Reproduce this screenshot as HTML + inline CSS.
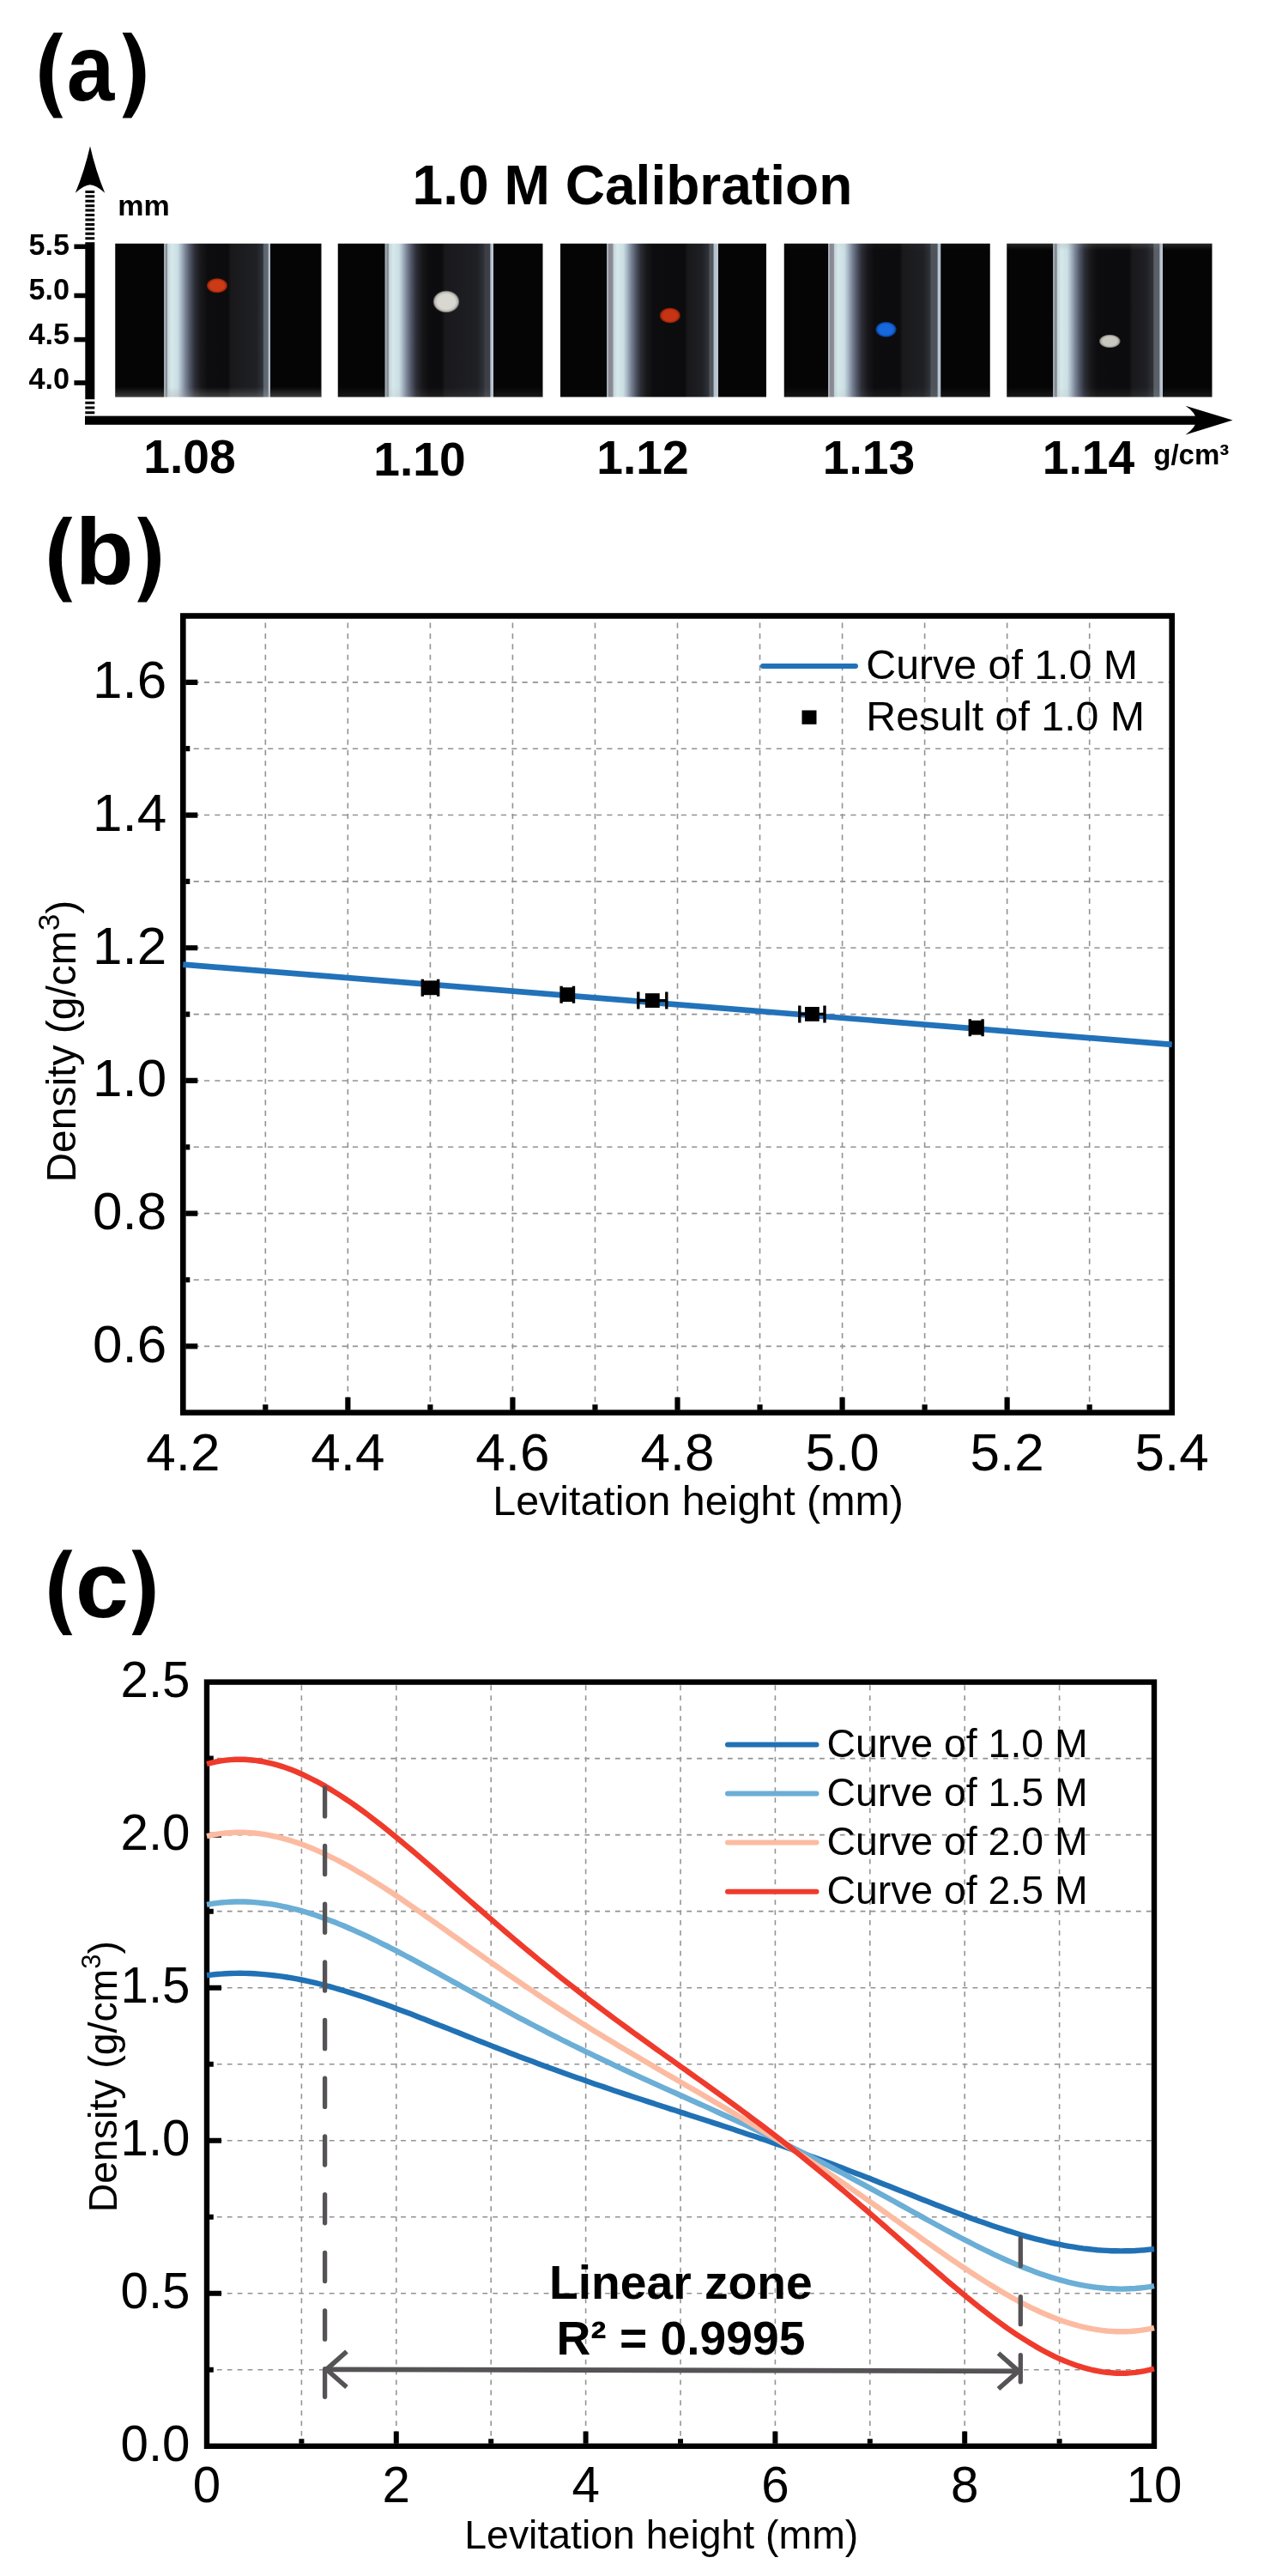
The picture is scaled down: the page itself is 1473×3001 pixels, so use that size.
<!DOCTYPE html>
<html><head><meta charset="utf-8"><title>figure</title>
<style>html,body{margin:0;padding:0;background:#fff}svg{display:block;will-change:transform}text{font-family:"Liberation Sans",sans-serif;fill:#000}</style></head>
<body>
<svg width="1473" height="3001" viewBox="0 0 1473 3001">
<rect x="0" y="0" width="1473" height="3001" fill="#fff"/>
<path d="M62.70 38.00 C40.90 67.80 40.90 107.70 62.50 137.50 L73.20 137.50 C56.85 106.20 56.85 69.30 73.20 38.00 Z" fill="#000"/>
<path d="M153.10 38.00 C174.90 67.80 174.90 107.70 153.30 137.50 L142.60 137.50 C158.95 106.20 158.95 69.30 142.60 38.00 Z" fill="#000"/>
<text x="0" y="0" font-size="108.6" font-weight="bold" transform="translate(77.86 116.80) scale(0.9200 1)">a</text>
<path d="M73.70 602.00 C51.90 631.80 51.90 671.80 73.50 701.60 L84.20 701.60 C67.85 670.30 67.85 633.30 84.20 602.00 Z" fill="#000"/>
<path d="M170.60 602.00 C192.40 631.80 192.40 671.80 170.80 701.60 L160.10 701.60 C176.45 670.30 176.45 633.30 160.10 602.00 Z" fill="#000"/>
<text x="0" y="0" font-size="108.6" font-weight="bold" transform="translate(87.47 680.00) scale(1.0300 1)">b</text>
<path d="M73.80 1805.50 C52.00 1835.30 52.00 1875.30 73.60 1905.10 L84.30 1905.10 C67.95 1873.80 67.95 1836.80 84.30 1805.50 Z" fill="#000"/>
<path d="M164.10 1805.50 C185.90 1835.30 185.90 1875.30 164.30 1905.10 L153.60 1905.10 C169.95 1873.80 169.95 1836.80 153.60 1805.50 Z" fill="#000"/>
<text x="0" y="0" font-size="108.6" font-weight="bold" transform="translate(87.66 1883.50) scale(1.0300 1)">c</text>
<g id="panel-a">
<defs>
<linearGradient id="tg0" gradientUnits="userSpaceOnUse" x1="134.25" y1="0" x2="374.5" y2="0">
<stop offset="0.2341" stop-color="#050506"/>
<stop offset="0.2362" stop-color="#9aa8b0"/>
<stop offset="0.2425" stop-color="#a4b2ba"/>
<stop offset="0.2445" stop-color="#88868f"/>
<stop offset="0.2504" stop-color="#8c8c96"/>
<stop offset="0.2554" stop-color="#c2d6da"/>
<stop offset="0.2737" stop-color="#d6e8ea"/>
<stop offset="0.3028" stop-color="#cbdee4"/>
<stop offset="0.3195" stop-color="#a9b9c6"/>
<stop offset="0.3403" stop-color="#7a8496"/>
<stop offset="0.3611" stop-color="#525868"/>
<stop offset="0.3861" stop-color="#2c2e36"/>
<stop offset="0.4152" stop-color="#18181b"/>
<stop offset="0.4485" stop-color="#0d0d0f"/>
<stop offset="0.5463" stop-color="#0c0c0e"/>
<stop offset="0.5630" stop-color="#19191c"/>
<stop offset="0.6845" stop-color="#1f2024"/>
<stop offset="0.7157" stop-color="#2e3238"/>
<stop offset="0.7220" stop-color="#5f6670"/>
<stop offset="0.7403" stop-color="#5f6670"/>
<stop offset="0.7444" stop-color="#b4c0ce"/>
<stop offset="0.7515" stop-color="#bcc8d6"/>
<stop offset="0.7540" stop-color="#050506"/>
</linearGradient>
<radialGradient id="bg0"><stop offset="0" stop-color="#cc3a16"/><stop offset="0.66" stop-color="#cc3a16"/><stop offset="0.86" stop-color="#a82a0c"/><stop offset="1" stop-color="#a82a0c" stop-opacity="0"/></radialGradient>
<linearGradient id="vf0" x1="0" y1="0" x2="0" y2="1"><stop offset="0" stop-color="#999" stop-opacity="0.0"/><stop offset="0.045" stop-color="#888" stop-opacity="0"/><stop offset="0.935" stop-color="#999" stop-opacity="0"/><stop offset="1" stop-color="#aaa" stop-opacity="0.33"/></linearGradient>
<linearGradient id="tg1" gradientUnits="userSpaceOnUse" x1="393.75" y1="0" x2="632.5" y2="0">
<stop offset="0.2283" stop-color="#050506"/>
<stop offset="0.2304" stop-color="#9aa8b0"/>
<stop offset="0.2366" stop-color="#a4b2ba"/>
<stop offset="0.2387" stop-color="#88868f"/>
<stop offset="0.2457" stop-color="#8c8c96"/>
<stop offset="0.2507" stop-color="#c2d6da"/>
<stop offset="0.2691" stop-color="#d6e8ea"/>
<stop offset="0.2984" stop-color="#cbdee4"/>
<stop offset="0.3152" stop-color="#a9b9c6"/>
<stop offset="0.3361" stop-color="#7a8496"/>
<stop offset="0.3571" stop-color="#525868"/>
<stop offset="0.3822" stop-color="#2c2e36"/>
<stop offset="0.4115" stop-color="#18181b"/>
<stop offset="0.4450" stop-color="#0d0d0f"/>
<stop offset="0.5068" stop-color="#0c0c0e"/>
<stop offset="0.5236" stop-color="#19191c"/>
<stop offset="0.6806" stop-color="#1f2024"/>
<stop offset="0.7120" stop-color="#2e3238"/>
<stop offset="0.7183" stop-color="#3c4046"/>
<stop offset="0.7418" stop-color="#3c4046"/>
<stop offset="0.7460" stop-color="#b4c0ce"/>
<stop offset="0.7573" stop-color="#bcc8d6"/>
<stop offset="0.7598" stop-color="#050506"/>
</linearGradient>
<radialGradient id="bg1"><stop offset="0" stop-color="#d8d8d0"/><stop offset="0.66" stop-color="#d8d8d0"/><stop offset="0.86" stop-color="#b4b4ac"/><stop offset="1" stop-color="#b4b4ac" stop-opacity="0"/></radialGradient>
<linearGradient id="vf1" x1="0" y1="0" x2="0" y2="1"><stop offset="0" stop-color="#999" stop-opacity="0.0"/><stop offset="0.045" stop-color="#888" stop-opacity="0"/><stop offset="0.935" stop-color="#999" stop-opacity="0"/><stop offset="1" stop-color="#aaa" stop-opacity="0.12"/></linearGradient>
<linearGradient id="tg2" gradientUnits="userSpaceOnUse" x1="653.0" y1="0" x2="893.0" y2="0">
<stop offset="0.2229" stop-color="#050506"/>
<stop offset="0.2250" stop-color="#9aa8b0"/>
<stop offset="0.2313" stop-color="#a4b2ba"/>
<stop offset="0.2333" stop-color="#88868f"/>
<stop offset="0.2537" stop-color="#8c8c96"/>
<stop offset="0.2588" stop-color="#c2d6da"/>
<stop offset="0.2771" stop-color="#d6e8ea"/>
<stop offset="0.3063" stop-color="#cbdee4"/>
<stop offset="0.3229" stop-color="#a9b9c6"/>
<stop offset="0.3438" stop-color="#7a8496"/>
<stop offset="0.3646" stop-color="#525868"/>
<stop offset="0.3896" stop-color="#2c2e36"/>
<stop offset="0.4188" stop-color="#18181b"/>
<stop offset="0.4521" stop-color="#0d0d0f"/>
<stop offset="0.6031" stop-color="#0c0c0e"/>
<stop offset="0.6198" stop-color="#19191c"/>
<stop offset="0.6877" stop-color="#1f2024"/>
<stop offset="0.7190" stop-color="#2e3238"/>
<stop offset="0.7252" stop-color="#50565c"/>
<stop offset="0.7419" stop-color="#50565c"/>
<stop offset="0.7460" stop-color="#b4c0ce"/>
<stop offset="0.7648" stop-color="#bcc8d6"/>
<stop offset="0.7673" stop-color="#050506"/>
</linearGradient>
<radialGradient id="bg2"><stop offset="0" stop-color="#c63414"/><stop offset="0.66" stop-color="#c63414"/><stop offset="0.86" stop-color="#a2260a"/><stop offset="1" stop-color="#a2260a" stop-opacity="0"/></radialGradient>
<linearGradient id="vf2" x1="0" y1="0" x2="0" y2="1"><stop offset="0" stop-color="#999" stop-opacity="0.0"/><stop offset="0.045" stop-color="#888" stop-opacity="0"/><stop offset="0.935" stop-color="#999" stop-opacity="0"/><stop offset="1" stop-color="#aaa" stop-opacity="0.0"/></linearGradient>
<linearGradient id="tg3" gradientUnits="userSpaceOnUse" x1="913.75" y1="0" x2="1153.75" y2="0">
<stop offset="0.2115" stop-color="#050506"/>
<stop offset="0.2135" stop-color="#9aa8b0"/>
<stop offset="0.2198" stop-color="#a4b2ba"/>
<stop offset="0.2219" stop-color="#88868f"/>
<stop offset="0.2402" stop-color="#8c8c96"/>
<stop offset="0.2452" stop-color="#c2d6da"/>
<stop offset="0.2635" stop-color="#d6e8ea"/>
<stop offset="0.2927" stop-color="#cbdee4"/>
<stop offset="0.3094" stop-color="#a9b9c6"/>
<stop offset="0.3302" stop-color="#7a8496"/>
<stop offset="0.3510" stop-color="#525868"/>
<stop offset="0.3760" stop-color="#2c2e36"/>
<stop offset="0.4052" stop-color="#18181b"/>
<stop offset="0.4385" stop-color="#0d0d0f"/>
<stop offset="0.5604" stop-color="#0c0c0e"/>
<stop offset="0.5771" stop-color="#19191c"/>
<stop offset="0.6760" stop-color="#1f2024"/>
<stop offset="0.7073" stop-color="#2e3238"/>
<stop offset="0.7135" stop-color="#4e5359"/>
<stop offset="0.7431" stop-color="#4e5359"/>
<stop offset="0.7473" stop-color="#b4c0ce"/>
<stop offset="0.7596" stop-color="#bcc8d6"/>
<stop offset="0.7621" stop-color="#050506"/>
</linearGradient>
<radialGradient id="bg3"><stop offset="0" stop-color="#1668dc"/><stop offset="0.66" stop-color="#1668dc"/><stop offset="0.86" stop-color="#0d4cb0"/><stop offset="1" stop-color="#0d4cb0" stop-opacity="0"/></radialGradient>
<linearGradient id="vf3" x1="0" y1="0" x2="0" y2="1"><stop offset="0" stop-color="#999" stop-opacity="0.05"/><stop offset="0.045" stop-color="#888" stop-opacity="0"/><stop offset="0.935" stop-color="#999" stop-opacity="0"/><stop offset="1" stop-color="#aaa" stop-opacity="0.1"/></linearGradient>
<linearGradient id="tg4" gradientUnits="userSpaceOnUse" x1="1173.25" y1="0" x2="1412.5" y2="0">
<stop offset="0.2247" stop-color="#050506"/>
<stop offset="0.2268" stop-color="#9aa8b0"/>
<stop offset="0.2330" stop-color="#a4b2ba"/>
<stop offset="0.2351" stop-color="#88868f"/>
<stop offset="0.2426" stop-color="#8c8c96"/>
<stop offset="0.2476" stop-color="#c2d6da"/>
<stop offset="0.2660" stop-color="#d6e8ea"/>
<stop offset="0.2953" stop-color="#cbdee4"/>
<stop offset="0.3120" stop-color="#a9b9c6"/>
<stop offset="0.3329" stop-color="#7a8496"/>
<stop offset="0.3538" stop-color="#525868"/>
<stop offset="0.3789" stop-color="#2c2e36"/>
<stop offset="0.4082" stop-color="#18181b"/>
<stop offset="0.4416" stop-color="#0d0d0f"/>
<stop offset="0.5956" stop-color="#0c0c0e"/>
<stop offset="0.6123" stop-color="#19191c"/>
<stop offset="0.6803" stop-color="#1f2024"/>
<stop offset="0.7116" stop-color="#2e3238"/>
<stop offset="0.7179" stop-color="#5a6066"/>
<stop offset="0.7423" stop-color="#5a6066"/>
<stop offset="0.7465" stop-color="#b4c0ce"/>
<stop offset="0.7578" stop-color="#bcc8d6"/>
<stop offset="0.7603" stop-color="#050506"/>
</linearGradient>
<radialGradient id="bg4"><stop offset="0" stop-color="#c8c8c0"/><stop offset="0.66" stop-color="#c8c8c0"/><stop offset="0.86" stop-color="#a0a098"/><stop offset="1" stop-color="#a0a098" stop-opacity="0"/></radialGradient>
<linearGradient id="vf4" x1="0" y1="0" x2="0" y2="1"><stop offset="0" stop-color="#999" stop-opacity="0.22"/><stop offset="0.045" stop-color="#888" stop-opacity="0"/><stop offset="0.935" stop-color="#999" stop-opacity="0"/><stop offset="1" stop-color="#aaa" stop-opacity="0.12"/></linearGradient>
</defs>
<rect x="134.25" y="283.75" width="240.25" height="178.75" fill="url(#tg0)"/>
<rect x="134.25" y="283.75" width="240.25" height="178.75" fill="url(#vf0)"/>
<ellipse cx="253.0" cy="332.7" rx="12.60" ry="8.90" fill="url(#bg0)"/>
<rect x="393.75" y="283.75" width="238.75" height="178.75" fill="url(#tg1)"/>
<rect x="393.75" y="283.75" width="238.75" height="178.75" fill="url(#vf1)"/>
<ellipse cx="520.0" cy="351.4" rx="15.80" ry="13.20" fill="url(#bg1)"/>
<rect x="653.0" y="283.75" width="240.00" height="178.75" fill="url(#tg2)"/>
<ellipse cx="780.8" cy="367.5" rx="12.60" ry="9.30" fill="url(#bg2)"/>
<rect x="913.75" y="283.75" width="240.00" height="178.75" fill="url(#tg3)"/>
<rect x="913.75" y="283.75" width="240.00" height="178.75" fill="url(#vf3)"/>
<ellipse cx="1032.5" cy="383.8" rx="12.60" ry="9.30" fill="url(#bg3)"/>
<rect x="1173.25" y="283.75" width="239.25" height="178.75" fill="url(#tg4)"/>
<rect x="1173.25" y="283.75" width="239.25" height="178.75" fill="url(#vf4)"/>
<ellipse cx="1293.3" cy="397.5" rx="12.80" ry="8.00" fill="url(#bg4)"/>
<rect x="99.3" y="282.2" width="11" height="183" fill="#000"/>
<rect x="99" y="484.6" width="1296" height="10.2" fill="#000"/>
<path d="M1436.5 489.6 L1381.5 472.8 Q1406.5 489.6 1381.5 506.4 Z" fill="#000"/>
<path d="M105 170.3 Q98.5 199 87.8 224.8 Q98 215.5 105 215.2 Q112 215.5 122.2 224.8 Q111.5 199 105 170.3 Z" fill="#000"/>
<path d="M99.4 223.40 h10.8 M99.4 228.83 h10.8 M99.4 234.26 h10.8 M99.4 239.69 h10.8 M99.4 245.12 h10.8 M99.4 250.55 h10.8 M99.4 255.98 h10.8 M99.4 261.41 h10.8 M99.4 266.84 h10.8 M99.4 272.27 h10.8 M99.4 277.70 h10.8 M99.3 469.30 h11 M99.3 475.00 h11 M99.3 480.70 h11" stroke="#000" stroke-width="3" fill="none"/>
<rect x="86.4" y="284.5" width="13.5" height="5.6" fill="#000"/>
<text x="57.3" y="296.9" font-size="34.2" font-weight="bold" text-anchor="middle">5.5</text>
<rect x="86.4" y="341.6" width="13.5" height="5.6" fill="#000"/>
<text x="57.3" y="349.4" font-size="34.2" font-weight="bold" text-anchor="middle">5.0</text>
<rect x="86.4" y="392.8" width="13.5" height="5.6" fill="#000"/>
<text x="57.3" y="400.6" font-size="34.2" font-weight="bold" text-anchor="middle">4.5</text>
<rect x="86.4" y="443.2" width="13.5" height="5.6" fill="#000"/>
<text x="57.3" y="453.0" font-size="34.2" font-weight="bold" text-anchor="middle">4.0</text>
<text x="137.3" y="251.3" font-size="34" font-weight="bold">mm</text>
<text x="737" y="237.5" font-size="64.1" font-weight="bold" text-anchor="middle">1.0 M Calibration</text>
<text x="221.0" y="551" font-size="55.2" font-weight="bold" text-anchor="middle">1.08</text>
<text x="489.0" y="554" font-size="55.2" font-weight="bold" text-anchor="middle">1.10</text>
<text x="749.0" y="552" font-size="55.2" font-weight="bold" text-anchor="middle">1.12</text>
<text x="1012.5" y="552" font-size="55.2" font-weight="bold" text-anchor="middle">1.13</text>
<text x="1268.4" y="552" font-size="55.2" font-weight="bold" text-anchor="middle">1.14</text>
<text x="1344.3" y="541.3" font-size="33" font-weight="bold">g/cm³</text>
</g>
<g id="panel-b">
<path d="M309.33 1645.7 V717.5 M405.37 1645.7 V717.5 M501.40 1645.7 V717.5 M597.43 1645.7 V717.5 M693.47 1645.7 V717.5 M789.50 1645.7 V717.5 M885.53 1645.7 V717.5 M981.57 1645.7 V717.5 M1077.60 1645.7 V717.5 M1173.63 1645.7 V717.5 M1269.67 1645.7 V717.5 M213.3 1568.35 H1365.7 M213.3 1491.00 H1365.7 M213.3 1413.65 H1365.7 M213.3 1336.30 H1365.7 M213.3 1258.95 H1365.7 M213.3 1181.60 H1365.7 M213.3 1104.25 H1365.7 M213.3 1026.90 H1365.7 M213.3 949.55 H1365.7 M213.3 872.20 H1365.7 M213.3 794.85 H1365.7" stroke="#929292" stroke-width="1.6" stroke-dasharray="6.2 6.15" fill="none"/>
<rect x="213.3" y="717.5" width="1152.40" height="928.20" fill="none" stroke="#000" stroke-width="6.6"/>
<path d="M216.3 1568.35 h14 M216.3 1491.00 h5 M216.3 1413.65 h14 M216.3 1336.30 h5 M216.3 1258.95 h14 M216.3 1181.60 h5 M216.3 1104.25 h14 M216.3 1026.90 h5 M216.3 949.55 h14 M216.3 872.20 h5 M216.3 794.85 h14 M309.33 1642.7 v-6.5 M405.37 1642.7 v-15 M501.40 1642.7 v-6.5 M597.43 1642.7 v-15 M693.47 1642.7 v-6.5 M789.50 1642.7 v-15 M885.53 1642.7 v-6.5 M981.57 1642.7 v-15 M1077.60 1642.7 v-6.5 M1173.63 1642.7 v-15 M1269.67 1642.7 v-6.5" stroke="#000" stroke-width="6.2" fill="none"/>
<path d="M213.3 1123.6 L1365.7 1216.9" stroke="#2272b9" stroke-width="6.7" fill="none"/>
<text x="194.2" y="1586.85" font-size="62" text-anchor="end">0.6</text>
<text x="194.2" y="1432.15" font-size="62" text-anchor="end">0.8</text>
<text x="194.2" y="1277.45" font-size="62" text-anchor="end">1.0</text>
<text x="194.2" y="1122.75" font-size="62" text-anchor="end">1.2</text>
<text x="194.2" y="968.05" font-size="62" text-anchor="end">1.4</text>
<text x="194.2" y="813.35" font-size="62" text-anchor="end">1.6</text>
<text x="213.30" y="1713.4" font-size="62" text-anchor="middle">4.2</text>
<text x="405.37" y="1713.4" font-size="62" text-anchor="middle">4.4</text>
<text x="597.43" y="1713.4" font-size="62" text-anchor="middle">4.6</text>
<text x="789.50" y="1713.4" font-size="62" text-anchor="middle">4.8</text>
<text x="981.57" y="1713.4" font-size="62" text-anchor="middle">5.0</text>
<text x="1173.63" y="1713.4" font-size="62" text-anchor="middle">5.2</text>
<text x="1365.70" y="1713.4" font-size="62" text-anchor="middle">5.4</text>
<text x="813.6" y="1765.3" font-size="48.4" text-anchor="middle">Levitation height (mm)</text>
<text transform="translate(88 1213.2) rotate(-90)" font-size="48" text-anchor="middle">Density (g/cm<tspan font-size="35" dy="-19.5">3</tspan><tspan dy="19.5">)</tspan></text>
<path d="M492.3 1150.8 H510.7 M492.3 1140.8 v20 M510.7 1140.8 v20" stroke="#000" stroke-width="3.4" fill="none"/>
<rect x="493.1" y="1142.4" width="16.8" height="16.8" fill="#000"/>
<path d="M654.1 1158.7 H668.5 M654.1 1148.7 v20 M668.5 1148.7 v20" stroke="#000" stroke-width="3.4" fill="none"/>
<rect x="652.9" y="1150.3" width="16.8" height="16.8" fill="#000"/>
<path d="M743.8 1165.6 H776.8 M743.8 1155.6 v20 M776.8 1155.6 v20" stroke="#000" stroke-width="3.4" fill="none"/>
<rect x="751.9" y="1157.2" width="16.8" height="16.8" fill="#000"/>
<path d="M931.8 1181.4 H961.0 M931.8 1171.4 v20 M961.0 1171.4 v20" stroke="#000" stroke-width="3.4" fill="none"/>
<rect x="938.0" y="1173.0" width="16.8" height="16.8" fill="#000"/>
<path d="M1130.3 1197.2 H1145.1 M1130.3 1187.2 v20 M1145.1 1187.2 v20" stroke="#000" stroke-width="3.4" fill="none"/>
<rect x="1129.3" y="1188.8" width="16.8" height="16.8" fill="#000"/>
<path d="M889 776 H997" stroke="#2272b9" stroke-width="6" stroke-linecap="round" fill="none"/>
<rect x="934.5" y="827.5" width="17" height="16.3" fill="#000"/>
<text x="1009.3" y="791" font-size="48.3">Curve of 1.0 M</text>
<text x="1009.3" y="851" font-size="48.3">Result of 1.0 M</text>
</g>
<g id="panel-c">
<path d="M351.40 2849.75 V1959.6 M461.80 2849.75 V1959.6 M572.20 2849.75 V1959.6 M682.60 2849.75 V1959.6 M793.00 2849.75 V1959.6 M903.40 2849.75 V1959.6 M1013.80 2849.75 V1959.6 M1124.20 2849.75 V1959.6 M1234.60 2849.75 V1959.6 M241.0 2760.74 H1345.0 M241.0 2671.72 H1345.0 M241.0 2582.70 H1345.0 M241.0 2493.69 H1345.0 M241.0 2404.68 H1345.0 M241.0 2315.66 H1345.0 M241.0 2226.64 H1345.0 M241.0 2137.63 H1345.0 M241.0 2048.61 H1345.0" stroke="#929292" stroke-width="1.55" stroke-dasharray="5.8 6.1" fill="none"/>
<rect x="241.0" y="1959.6" width="1104.00" height="890.15" fill="none" stroke="#000" stroke-width="6.4"/>
<path d="M244.0 2760.74 h4.8 M244.0 2671.72 h14 M244.0 2582.70 h4.8 M244.0 2493.69 h14 M244.0 2404.68 h4.8 M244.0 2315.66 h14 M244.0 2226.64 h4.8 M244.0 2137.63 h14 M244.0 2048.61 h4.8 M351.40 2846.75 v-5.5 M461.80 2846.75 v-14.2 M572.20 2846.75 v-5.5 M682.60 2846.75 v-14.2 M793.00 2846.75 v-5.5 M903.40 2846.75 v-14.2 M1013.80 2846.75 v-5.5 M1124.20 2846.75 v-14.2 M1234.60 2846.75 v-5.5" stroke="#000" stroke-width="6" fill="none"/>
<polyline points="241.0,2301.2 246.5,2300.6 252.0,2300.0 257.6,2299.6 263.1,2299.3 268.6,2299.0 274.1,2298.9 279.6,2298.8 285.2,2298.9 290.7,2299.0 296.2,2299.3 301.7,2299.6 307.2,2300.1 312.8,2300.6 318.3,2301.2 323.8,2301.9 329.3,2302.6 334.8,2303.5 340.4,2304.4 345.9,2305.4 351.4,2306.5 356.9,2307.7 362.4,2308.9 368.0,2310.2 373.5,2311.5 379.0,2313.0 384.5,2314.4 390.0,2316.0 395.6,2317.6 401.1,2319.2 406.6,2320.9 412.1,2322.6 417.6,2324.4 423.2,2326.2 428.7,2328.1 434.2,2330.0 439.7,2331.9 445.2,2333.8 450.8,2335.8 456.3,2337.8 461.8,2339.9 467.3,2341.9 472.8,2344.0 478.4,2346.1 483.9,2348.3 489.4,2350.4 494.9,2352.5 500.4,2354.7 506.0,2356.9 511.5,2359.1 517.0,2361.2 522.5,2363.4 528.0,2365.6 533.6,2367.8 539.1,2370.0 544.6,2372.2 550.1,2374.4 555.6,2376.6 561.2,2378.7 566.7,2380.9 572.2,2383.1 577.7,2385.2 583.2,2387.4 588.8,2389.5 594.3,2391.7 599.8,2393.8 605.3,2395.9 610.8,2398.0 616.4,2400.1 621.9,2402.1 627.4,2404.2 632.9,2406.3 638.4,2408.3 644.0,2410.3 649.5,2412.3 655.0,2414.3 660.5,2416.3 666.0,2418.2 671.6,2420.2 677.1,2422.1 682.6,2424.1 688.1,2426.0 693.6,2427.9 699.2,2429.8 704.7,2431.6 710.2,2433.5 715.7,2435.4 721.2,2437.2 726.8,2439.1 732.3,2440.9 737.8,2442.7 743.3,2444.5 748.8,2446.3 754.4,2448.1 759.9,2449.9 765.4,2451.7 770.9,2453.5 776.4,2455.3 782.0,2457.1 787.5,2458.8 793.0,2460.6 798.5,2462.4 804.0,2464.2 809.6,2466.0 815.1,2467.7 820.6,2469.5 826.1,2471.3 831.6,2473.1 837.2,2474.9 842.7,2476.7 848.2,2478.5 853.7,2480.3 859.2,2482.2 864.8,2484.0 870.3,2485.9 875.8,2487.7 881.3,2489.6 886.8,2491.5 892.4,2493.3 897.9,2495.2 903.4,2497.2 908.9,2499.1 914.4,2501.0 920.0,2503.0 925.5,2504.9 931.0,2506.9 936.5,2508.9 942.0,2510.9 947.6,2512.9 953.1,2515.0 958.6,2517.0 964.1,2519.1 969.6,2521.1 975.2,2523.2 980.7,2525.3 986.2,2527.4 991.7,2529.6 997.2,2531.7 1002.8,2533.8 1008.3,2536.0 1013.8,2538.1 1019.3,2540.3 1024.8,2542.5 1030.4,2544.7 1035.9,2546.8 1041.4,2549.0 1046.9,2551.2 1052.4,2553.4 1058.0,2555.6 1063.5,2557.8 1069.0,2560.0 1074.5,2562.2 1080.0,2564.3 1085.6,2566.5 1091.1,2568.7 1096.6,2570.8 1102.1,2573.0 1107.6,2575.1 1113.2,2577.2 1118.7,2579.3 1124.2,2581.3 1129.7,2583.4 1135.2,2585.4 1140.8,2587.4 1146.3,2589.3 1151.8,2591.3 1157.3,2593.2 1162.8,2595.0 1168.4,2596.8 1173.9,2598.6 1179.4,2600.3 1184.9,2602.0 1190.4,2603.7 1196.0,2605.3 1201.5,2606.8 1207.0,2608.3 1212.5,2609.7 1218.0,2611.0 1223.6,2612.3 1229.1,2613.5 1234.6,2614.7 1240.1,2615.8 1245.6,2616.8 1251.2,2617.7 1256.7,2618.6 1262.2,2619.4 1267.7,2620.0 1273.2,2620.6 1278.8,2621.2 1284.3,2621.6 1289.8,2621.9 1295.3,2622.2 1300.8,2622.3 1306.4,2622.4 1311.9,2622.3 1317.4,2622.2 1322.9,2622.0 1328.4,2621.6 1334.0,2621.2 1339.5,2620.6 1345.0,2620.0" fill="none" stroke="#2171b5" stroke-width="6.4" stroke-linejoin="round"/>
<polyline points="241.0,2218.8 246.5,2217.9 252.0,2217.1 257.6,2216.5 263.1,2216.1 268.6,2215.7 274.1,2215.5 279.6,2215.5 285.2,2215.5 290.7,2215.8 296.2,2216.1 301.7,2216.6 307.2,2217.2 312.8,2217.9 318.3,2218.7 323.8,2219.7 329.3,2220.8 334.8,2222.0 340.4,2223.3 345.9,2224.7 351.4,2226.2 356.9,2227.8 362.4,2229.5 368.0,2231.3 373.5,2233.2 379.0,2235.2 384.5,2237.2 390.0,2239.3 395.6,2241.6 401.1,2243.8 406.6,2246.2 412.1,2248.6 417.6,2251.1 423.2,2253.6 428.7,2256.2 434.2,2258.8 439.7,2261.5 445.2,2264.3 450.8,2267.0 456.3,2269.8 461.8,2272.7 467.3,2275.6 472.8,2278.5 478.4,2281.4 483.9,2284.4 489.4,2287.4 494.9,2290.4 500.4,2293.4 506.0,2296.4 511.5,2299.4 517.0,2302.5 522.5,2305.5 528.0,2308.6 533.6,2311.6 539.1,2314.7 544.6,2317.7 550.1,2320.8 555.6,2323.8 561.2,2326.9 566.7,2329.9 572.2,2332.9 577.7,2335.9 583.2,2338.9 588.8,2341.9 594.3,2344.9 599.8,2347.9 605.3,2350.8 610.8,2353.7 616.4,2356.6 621.9,2359.5 627.4,2362.4 632.9,2365.2 638.4,2368.1 644.0,2370.9 649.5,2373.7 655.0,2376.5 660.5,2379.2 666.0,2382.0 671.6,2384.7 677.1,2387.4 682.6,2390.1 688.1,2392.7 693.6,2395.4 699.2,2398.0 704.7,2400.6 710.2,2403.2 715.7,2405.8 721.2,2408.4 726.8,2411.0 732.3,2413.5 737.8,2416.1 743.3,2418.6 748.8,2421.1 754.4,2423.6 759.9,2426.1 765.4,2428.6 770.9,2431.1 776.4,2433.6 782.0,2436.1 787.5,2438.5 793.0,2441.0 798.5,2443.5 804.0,2446.0 809.6,2448.5 815.1,2451.0 820.6,2453.4 826.1,2455.9 831.6,2458.4 837.2,2461.0 842.7,2463.5 848.2,2466.0 853.7,2468.5 859.2,2471.1 864.8,2473.7 870.3,2476.2 875.8,2478.8 881.3,2481.4 886.8,2484.0 892.4,2486.7 897.9,2489.3 903.4,2492.0 908.9,2494.7 914.4,2497.4 920.0,2500.1 925.5,2502.8 931.0,2505.6 936.5,2508.4 942.0,2511.2 947.6,2514.0 953.1,2516.8 958.6,2519.7 964.1,2522.5 969.6,2525.4 975.2,2528.3 980.7,2531.3 986.2,2534.2 991.7,2537.2 997.2,2540.1 1002.8,2543.1 1008.3,2546.1 1013.8,2549.1 1019.3,2552.1 1024.8,2555.2 1030.4,2558.2 1035.9,2561.3 1041.4,2564.3 1046.9,2567.4 1052.4,2570.4 1058.0,2573.5 1063.5,2576.5 1069.0,2579.6 1074.5,2582.6 1080.0,2585.7 1085.6,2588.7 1091.1,2591.7 1096.6,2594.7 1102.1,2597.7 1107.6,2600.6 1113.2,2603.6 1118.7,2606.5 1124.2,2609.4 1129.7,2612.2 1135.2,2615.0 1140.8,2617.8 1146.3,2620.5 1151.8,2623.2 1157.3,2625.9 1162.8,2628.4 1168.4,2631.0 1173.9,2633.5 1179.4,2635.9 1184.9,2638.2 1190.4,2640.5 1196.0,2642.7 1201.5,2644.8 1207.0,2646.9 1212.5,2648.9 1218.0,2650.8 1223.6,2652.6 1229.1,2654.3 1234.6,2655.9 1240.1,2657.4 1245.6,2658.8 1251.2,2660.1 1256.7,2661.3 1262.2,2662.4 1267.7,2663.3 1273.2,2664.2 1278.8,2664.9 1284.3,2665.5 1289.8,2666.0 1295.3,2666.3 1300.8,2666.5 1306.4,2666.6 1311.9,2666.5 1317.4,2666.3 1322.9,2666.0 1328.4,2665.5 1334.0,2664.9 1339.5,2664.2 1345.0,2663.2" fill="none" stroke="#6baed6" stroke-width="6.4" stroke-linejoin="round"/>
<polyline points="241.0,2139.1 246.5,2137.9 252.0,2136.9 257.6,2136.1 263.1,2135.5 268.6,2135.1 274.1,2134.8 279.6,2134.7 285.2,2134.8 290.7,2135.1 296.2,2135.5 301.7,2136.2 307.2,2136.9 312.8,2137.9 318.3,2139.0 323.8,2140.2 329.3,2141.6 334.8,2143.1 340.4,2144.8 345.9,2146.6 351.4,2148.6 356.9,2150.6 362.4,2152.8 368.0,2155.1 373.5,2157.6 379.0,2160.1 384.5,2162.8 390.0,2165.5 395.6,2168.4 401.1,2171.3 406.6,2174.3 412.1,2177.5 417.6,2180.7 423.2,2183.9 428.7,2187.3 434.2,2190.7 439.7,2194.1 445.2,2197.6 450.8,2201.2 456.3,2204.8 461.8,2208.5 467.3,2212.2 472.8,2216.0 478.4,2219.8 483.9,2223.6 489.4,2227.4 494.9,2231.3 500.4,2235.2 506.0,2239.1 511.5,2243.0 517.0,2246.9 522.5,2250.8 528.0,2254.8 533.6,2258.7 539.1,2262.7 544.6,2266.6 550.1,2270.5 555.6,2274.4 561.2,2278.4 566.7,2282.3 572.2,2286.2 577.7,2290.0 583.2,2293.9 588.8,2297.8 594.3,2301.6 599.8,2305.4 605.3,2309.2 610.8,2313.0 616.4,2316.7 621.9,2320.4 627.4,2324.1 632.9,2327.8 638.4,2331.5 644.0,2335.1 649.5,2338.7 655.0,2342.3 660.5,2345.8 666.0,2349.4 671.6,2352.9 677.1,2356.4 682.6,2359.8 688.1,2363.3 693.6,2366.7 699.2,2370.1 704.7,2373.5 710.2,2376.8 715.7,2380.1 721.2,2383.5 726.8,2386.8 732.3,2390.1 737.8,2393.3 743.3,2396.6 748.8,2399.8 754.4,2403.1 759.9,2406.3 765.4,2409.5 770.9,2412.7 776.4,2415.9 782.0,2419.1 787.5,2422.3 793.0,2425.5 798.5,2428.7 804.0,2431.9 809.6,2435.1 815.1,2438.3 820.6,2441.5 826.1,2444.8 831.6,2448.0 837.2,2451.2 842.7,2454.5 848.2,2457.7 853.7,2461.0 859.2,2464.3 864.8,2467.6 870.3,2470.9 875.8,2474.2 881.3,2477.6 886.8,2481.0 892.4,2484.4 897.9,2487.8 903.4,2491.2 908.9,2494.7 914.4,2498.2 920.0,2501.7 925.5,2505.2 931.0,2508.8 936.5,2512.3 942.0,2515.9 947.6,2519.6 953.1,2523.2 958.6,2526.9 964.1,2530.6 969.6,2534.3 975.2,2538.1 980.7,2541.8 986.2,2545.6 991.7,2549.5 997.2,2553.3 1002.8,2557.1 1008.3,2561.0 1013.8,2564.9 1019.3,2568.8 1024.8,2572.7 1030.4,2576.6 1035.9,2580.5 1041.4,2584.5 1046.9,2588.4 1052.4,2592.3 1058.0,2596.3 1063.5,2600.2 1069.0,2604.1 1074.5,2608.1 1080.0,2612.0 1085.6,2615.9 1091.1,2619.8 1096.6,2623.6 1102.1,2627.5 1107.6,2631.3 1113.2,2635.1 1118.7,2638.8 1124.2,2642.5 1129.7,2646.2 1135.2,2649.8 1140.8,2653.4 1146.3,2656.9 1151.8,2660.4 1157.3,2663.8 1162.8,2667.1 1168.4,2670.4 1173.9,2673.6 1179.4,2676.7 1184.9,2679.7 1190.4,2682.7 1196.0,2685.5 1201.5,2688.3 1207.0,2690.9 1212.5,2693.5 1218.0,2695.9 1223.6,2698.2 1229.1,2700.4 1234.6,2702.5 1240.1,2704.4 1245.6,2706.2 1251.2,2707.9 1256.7,2709.5 1262.2,2710.9 1267.7,2712.1 1273.2,2713.2 1278.8,2714.1 1284.3,2714.9 1289.8,2715.5 1295.3,2715.9 1300.8,2716.2 1306.4,2716.3 1311.9,2716.2 1317.4,2716.0 1322.9,2715.5 1328.4,2714.9 1334.0,2714.1 1339.5,2713.2 1345.0,2712.0" fill="none" stroke="#fcbba1" stroke-width="6.4" stroke-linejoin="round"/>
<polyline points="241.0,2055.0 246.5,2053.6 252.0,2052.4 257.6,2051.4 263.1,2050.7 268.6,2050.1 274.1,2049.8 279.6,2049.7 285.2,2049.8 290.7,2050.2 296.2,2050.7 301.7,2051.5 307.2,2052.4 312.8,2053.6 318.3,2054.9 323.8,2056.4 329.3,2058.1 334.8,2060.0 340.4,2062.1 345.9,2064.3 351.4,2066.7 356.9,2069.3 362.4,2072.0 368.0,2074.8 373.5,2077.8 379.0,2080.9 384.5,2084.2 390.0,2087.6 395.6,2091.1 401.1,2094.7 406.6,2098.4 412.1,2102.2 417.6,2106.2 423.2,2110.2 428.7,2114.3 434.2,2118.5 439.7,2122.7 445.2,2127.1 450.8,2131.5 456.3,2135.9 461.8,2140.4 467.3,2145.0 472.8,2149.6 478.4,2154.3 483.9,2158.9 489.4,2163.7 494.9,2168.4 500.4,2173.2 506.0,2178.0 511.5,2182.8 517.0,2187.6 522.5,2192.5 528.0,2197.3 533.6,2202.1 539.1,2207.0 544.6,2211.8 550.1,2216.7 555.6,2221.5 561.2,2226.3 566.7,2231.1 572.2,2235.9 577.7,2240.7 583.2,2245.4 588.8,2250.2 594.3,2254.9 599.8,2259.6 605.3,2264.2 610.8,2268.9 616.4,2273.5 621.9,2278.0 627.4,2282.6 632.9,2287.1 638.4,2291.6 644.0,2296.1 649.5,2300.5 655.0,2304.9 660.5,2309.3 666.0,2313.6 671.6,2317.9 677.1,2322.2 682.6,2326.5 688.1,2330.7 693.6,2334.9 699.2,2339.1 704.7,2343.2 710.2,2347.4 715.7,2351.5 721.2,2355.5 726.8,2359.6 732.3,2363.6 737.8,2367.7 743.3,2371.7 748.8,2375.7 754.4,2379.6 759.9,2383.6 765.4,2387.6 770.9,2391.5 776.4,2395.5 782.0,2399.4 787.5,2403.3 793.0,2407.3 798.5,2411.2 804.0,2415.1 809.6,2419.1 815.1,2423.0 820.6,2426.9 826.1,2430.9 831.6,2434.9 837.2,2438.8 842.7,2442.8 848.2,2446.8 853.7,2450.9 859.2,2454.9 864.8,2459.0 870.3,2463.0 875.8,2467.2 881.3,2471.3 886.8,2475.4 892.4,2479.6 897.9,2483.8 903.4,2488.0 908.9,2492.3 914.4,2496.6 920.0,2500.9 925.5,2505.2 931.0,2509.6 936.5,2514.0 942.0,2518.4 947.6,2522.9 953.1,2527.4 958.6,2531.9 964.1,2536.5 969.6,2541.0 975.2,2545.7 980.7,2550.3 986.2,2554.9 991.7,2559.6 997.2,2564.3 1002.8,2569.1 1008.3,2573.8 1013.8,2578.6 1019.3,2583.4 1024.8,2588.2 1030.4,2593.0 1035.9,2597.8 1041.4,2602.7 1046.9,2607.5 1052.4,2612.4 1058.0,2617.2 1063.5,2622.0 1069.0,2626.9 1074.5,2631.7 1080.0,2636.5 1085.6,2641.3 1091.1,2646.1 1096.6,2650.8 1102.1,2655.6 1107.6,2660.3 1113.2,2664.9 1118.7,2669.5 1124.2,2674.1 1129.7,2678.6 1135.2,2683.0 1140.8,2687.4 1146.3,2691.8 1151.8,2696.0 1157.3,2700.2 1162.8,2704.3 1168.4,2708.3 1173.9,2712.3 1179.4,2716.1 1184.9,2719.8 1190.4,2723.4 1196.0,2726.9 1201.5,2730.3 1207.0,2733.6 1212.5,2736.7 1218.0,2739.7 1223.6,2742.6 1229.1,2745.3 1234.6,2747.8 1240.1,2750.2 1245.6,2752.4 1251.2,2754.5 1256.7,2756.4 1262.2,2758.1 1267.7,2759.6 1273.2,2761.0 1278.8,2762.1 1284.3,2763.1 1289.8,2763.8 1295.3,2764.3 1300.8,2764.7 1306.4,2764.8 1311.9,2764.7 1317.4,2764.4 1322.9,2763.9 1328.4,2763.1 1334.0,2762.1 1339.5,2760.9 1345.0,2759.5" fill="none" stroke="#ef3b2c" stroke-width="6.4" stroke-linejoin="round"/>
<path d="M378.6 2082.7 V2792.3" stroke="#555355" stroke-width="5.3" stroke-linecap="round" stroke-dasharray="33.2 34.5" fill="none"/>
<path d="M1189.3 2607.7 V2774.8" stroke="#555355" stroke-width="5.3" stroke-linecap="round" stroke-dasharray="32 36" fill="none"/>
<path d="M379.5 2760.3 L1187.5 2762.3" stroke="#555355" stroke-width="5.8" fill="none"/>
<path d="M404 2739.5 L380.5 2760.3 L404 2781" stroke="#555355" stroke-width="5.6" fill="none" stroke-linejoin="miter"/>
<path d="M1163.5 2741.5 L1187 2762.3 L1163.5 2783" stroke="#555355" stroke-width="5.6" fill="none" stroke-linejoin="miter"/>
<text x="221.5" y="2867.35" font-size="58.3" text-anchor="end">0.0</text>
<text x="221.5" y="2689.32" font-size="58.3" text-anchor="end">0.5</text>
<text x="221.5" y="2511.29" font-size="58.3" text-anchor="end">1.0</text>
<text x="221.5" y="2333.26" font-size="58.3" text-anchor="end">1.5</text>
<text x="221.5" y="2155.23" font-size="58.3" text-anchor="end">2.0</text>
<text x="221.5" y="1977.20" font-size="58.3" text-anchor="end">2.5</text>
<text x="241.00" y="2914.5" font-size="58.3" text-anchor="middle">0</text>
<text x="461.80" y="2914.5" font-size="58.3" text-anchor="middle">2</text>
<text x="682.60" y="2914.5" font-size="58.3" text-anchor="middle">4</text>
<text x="903.40" y="2914.5" font-size="58.3" text-anchor="middle">6</text>
<text x="1124.20" y="2914.5" font-size="58.3" text-anchor="middle">8</text>
<text x="1345.00" y="2914.5" font-size="58.3" text-anchor="middle">10</text>
<text x="770.8" y="2968.9" font-size="46.4" text-anchor="middle">Levitation height (mm)</text>
<text transform="translate(136.4 2419.2) rotate(-90)" font-size="46.4" text-anchor="middle">Density (g/cm<tspan font-size="31" dy="-19.5">3</tspan><tspan dy="19.5">)</tspan></text>
<path d="M848 2032.4 H951.5" stroke="#2171b5" stroke-width="6" stroke-linecap="round" fill="none"/>
<text x="963.4" y="2047.0" font-size="46.4">Curve of 1.0 M</text>
<path d="M848 2089.5 H951.5" stroke="#6baed6" stroke-width="6" stroke-linecap="round" fill="none"/>
<text x="963.4" y="2104.1" font-size="46.4">Curve of 1.5 M</text>
<path d="M848 2146.6 H951.5" stroke="#fcbba1" stroke-width="6" stroke-linecap="round" fill="none"/>
<text x="963.4" y="2161.2" font-size="46.4">Curve of 2.0 M</text>
<path d="M848 2203.7 H951.5" stroke="#ef3b2c" stroke-width="6" stroke-linecap="round" fill="none"/>
<text x="963.4" y="2218.3" font-size="46.4">Curve of 2.5 M</text>
<text x="793.4" y="2678.2" font-size="55.2" font-weight="bold" text-anchor="middle">Linear zone</text>
<text x="793.4" y="2743.2" font-size="55.2" font-weight="bold" text-anchor="middle">R² = 0.9995</text>
</g>
</svg>
</body></html>
